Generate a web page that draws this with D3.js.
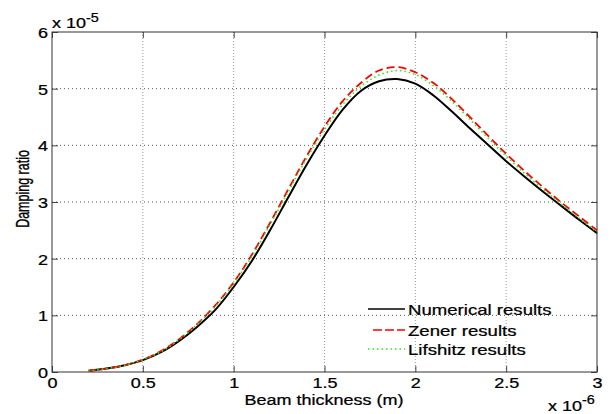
<!DOCTYPE html>
<html>
<head>
<meta charset="utf-8">
<script src="https://cdn.jsdelivr.net/npm/d3@7/dist/d3.min.js"></script>
<style>
  html, body { margin: 0; padding: 0; background: #fff; }
  svg { display: block; font-family: "Liberation Sans", Arial, sans-serif; }
  svg text { stroke: #000; stroke-width: 0.25px; fill: #000; }
</style>
</head>
<body>
<svg id="chart" width="615" height="414"></svg>
<script>
// ---- Data (x in units of 1e-6 m, y in units of 1e-5) ----
const thickness = [0.2,0.3,0.4,0.5,0.6,0.7,0.8,0.9,1.0,1.1,1.2,1.3,1.4,1.5,1.6,1.7,1.8,1.9,2.0,2.1,2.2,2.3,2.4,2.5,2.6,2.7,2.8,2.9,3.0];
const numerical = [0.02,0.06,0.12,0.21,0.35,0.55,0.80,1.10,1.50,1.96,2.50,3.08,3.65,4.17,4.63,4.96,5.13,5.17,5.09,4.88,4.60,4.30,4.01,3.72,3.45,3.19,2.94,2.69,2.45];
const zener     = [0.02,0.06,0.12,0.22,0.37,0.58,0.85,1.18,1.58,2.07,2.63,3.22,3.80,4.33,4.78,5.10,5.32,5.38,5.29,5.10,4.82,4.50,4.17,3.85,3.55,3.27,3.00,2.75,2.50];
const lifshitz  = [0.02,0.06,0.12,0.22,0.36,0.57,0.84,1.16,1.56,2.04,2.60,3.18,3.76,4.28,4.72,5.04,5.24,5.32,5.25,5.05,4.78,4.46,4.13,3.81,3.51,3.23,2.97,2.72,2.47];
const seriesNames = ["Numerical results","Zener results","Lifshitz results"];
const xTicks = [0,0.5,1,1.5,2,2.5,3];
const xTickLabels = ["0","0.5","1","1.5","2","2.5","3"];
const yTicks = [0,1,2,3,4,5,6];
const yTickLabels = ["0","1","2","3","4","5","6"];

const svg = d3.select("#chart");
const L = 52, R = 597, T = 32, B = 372;
const SX = 1.2; // horizontal text stretch of the original

const x = d3.scaleLinear().domain([0,3]).range([L,R]);
const y = d3.scaleLinear().domain([0,6]).range([B,T]);

// grid
const grid = svg.append("g");
grid.selectAll("line.v").data(xTicks.slice(1,-1)).enter().append("line")
  .attr("x1", d=>x(d)).attr("x2", d=>x(d)).attr("y1", T).attr("y2", B)
  .attr("stroke", "#999").attr("stroke-width", 1).attr("stroke-dasharray", "1,2");
grid.selectAll("line.h").data(yTicks.slice(1,-1)).enter().append("line")
  .attr("x1", L).attr("x2", R).attr("y1", d=>y(d)).attr("y2", d=>y(d))
  .attr("stroke", "#555").attr("stroke-width", 1).attr("stroke-dasharray", "1,3");

// axes
const fmtX = d => xTickLabels[xTicks.indexOf(d)];
const fmtY = d => yTickLabels[yTicks.indexOf(d)];
const axB = svg.append("g").attr("transform", `translate(0,${B})`)
  .call(d3.axisBottom(x).tickValues(xTicks).tickFormat(fmtX).tickSizeInner(-6).tickSizeOuter(0));
const axT = svg.append("g").attr("transform", `translate(0,${T})`)
  .call(d3.axisTop(x).tickValues(xTicks).tickFormat("").tickSizeInner(-6).tickSizeOuter(0));
const axL = svg.append("g").attr("transform", `translate(${L},0)`)
  .call(d3.axisLeft(y).tickValues(yTicks).tickFormat(fmtY).tickSizeInner(-6).tickSizeOuter(0));
const axR = svg.append("g").attr("transform", `translate(${R},0)`)
  .call(d3.axisRight(y).tickValues(yTicks).tickFormat("").tickSizeInner(-6).tickSizeOuter(0));
[axB,axT,axL,axR].forEach(a => {
  a.select(".domain").remove();
  a.selectAll(".tick line").attr("stroke", "#444");
  a.attr("font-family", null).attr("font-size", null);
});
axB.selectAll(".tick text").attr("y", 16).attr("dy", 0)
  .attr("transform", `scale(${SX},1)`).style("font-size", "15px");
axL.selectAll(".tick text").attr("x", -4/SX).attr("dy", "0.36em")
  .attr("transform", `scale(${SX},1)`).style("font-size", "15px");

// box
svg.append("rect").attr("x", L).attr("y", T).attr("width", R-L).attr("height", B-T)
  .attr("fill", "none").attr("stroke", "#333").attr("stroke-width", 1);

// lines
const mk = vals => thickness.map((t,i)=>[t, vals[i]]);
const line = d3.line().x(d=>x(d[0])).y(d=>y(d[1])).curve(d3.curveCatmullRom.alpha(0.5));
const styles = [
  {data: numerical, color: "#000", w: 2, dash: null},
  {data: zener, color: "#ff0000", w: 1.8, dash: "8,4"},
  {data: lifshitz, color: "#22ee22", w: 1.6, dash: "1.5,3"}
];
styles.forEach(s => {
  svg.append("path").datum(mk(s.data)).attr("d", line)
    .attr("fill", "none").attr("stroke", s.color).attr("stroke-width", s.w)
    .attr("stroke-dasharray", s.dash);
});

// legend
const legY = [309, 330, 349];
const legX0 = [368, 373, 368];
seriesNames.forEach((name, i) => {
  const s = styles[i];
  svg.append("line").attr("x1", legX0[i]).attr("x2", 405).attr("y1", legY[i]).attr("y2", legY[i])
    .attr("stroke", s.color).attr("stroke-width", i===0 ? 1.6 : 1.5).attr("stroke-dasharray", i===1 ? "9,3" : s.dash);
  svg.append("text").attr("transform", `translate(408,${legY[i]+6}) scale(${SX},1)`)
    .style("font-size", "15.5px").text(name);
});

// exponent labels
svg.append("text").attr("transform", `translate(52,28) scale(${SX},1)`).style("font-size", "15px").text("x 10");
svg.append("text").attr("transform", `translate(86,22) scale(${SX},1)`).style("font-size", "12px").text("-5");
svg.append("text").attr("transform", `translate(548,411) scale(${SX},1)`).style("font-size", "15px").text("x 10");
svg.append("text").attr("transform", `translate(582,404) scale(${SX},1)`).style("font-size", "12px").text("-6");

// axis titles
svg.append("text").attr("transform", `translate(324,405) scale(${SX},1)`)
  .attr("text-anchor", "middle").style("font-size", "15px").text("Beam thickness (m)");
svg.append("text").attr("transform", `translate(29,189) scale(1.45,1) rotate(-90)`)
  .attr("text-anchor", "middle").style("font-size", "12.5px").text("Damping ratio");
</script>
</body>
</html>
